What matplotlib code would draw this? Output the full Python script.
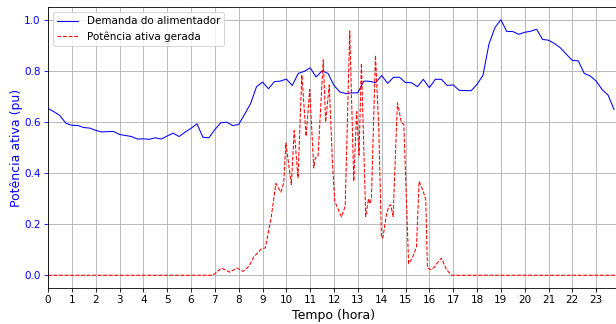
import matplotlib

matplotlib.use("Agg")
import matplotlib.pyplot as plt
import numpy as np


OUTPUT_PATH = "out.png"

# Demanda do alimentador, amostras de 15 min (0:00 ... 23:45)
demand_hours = np.arange(96) * 0.25
demand_pu = [
    0.653, 0.640, 0.625, 0.595, 0.587, 0.586, 0.578, 0.576,
    0.567, 0.561, 0.562, 0.563, 0.551, 0.547, 0.543, 0.533,
    0.534, 0.532, 0.538, 0.533, 0.545, 0.556, 0.543, 0.560,
    0.575, 0.593, 0.540, 0.538, 0.570, 0.597, 0.599, 0.586,
    0.590, 0.630, 0.672, 0.738, 0.756, 0.730, 0.758, 0.760,
    0.768, 0.743, 0.790, 0.798, 0.812, 0.776, 0.800, 0.790,
    0.743, 0.717, 0.711, 0.714, 0.714, 0.760, 0.759, 0.754,
    0.782, 0.751, 0.775, 0.775, 0.754, 0.754, 0.738, 0.767,
    0.734, 0.767, 0.767, 0.743, 0.745, 0.724, 0.723, 0.722,
    0.747, 0.782, 0.904, 0.969, 1.000, 0.954, 0.954, 0.943,
    0.951, 0.955, 0.963, 0.923, 0.920, 0.907, 0.890, 0.865,
    0.841, 0.839, 0.790, 0.780, 0.760, 0.727, 0.705, 0.649,
]

# Potência ativa gerada
pv_hours = [
    0.0, 6.92, 7.28, 7.45, 7.62, 7.93, 8.18, 8.43, 8.63, 8.95,
    9.12, 9.37, 9.56, 9.77, 9.89, 9.98, 10.21, 10.33, 10.49, 10.65,
    10.83, 10.98, 11.15, 11.22, 11.33, 11.55, 11.65, 11.80, 11.93, 12.03,
    12.31, 12.47, 12.66, 12.83, 12.95, 13.05, 13.15, 13.33, 13.45, 13.50,
    13.57, 13.74, 13.88, 13.99, 14.05, 14.20, 14.30, 14.38, 14.48, 14.66,
    14.83, 14.93, 15.13, 15.30, 15.46, 15.57, 15.74, 15.85, 15.92, 16.05,
    16.20, 16.35, 16.51, 16.72, 16.93, 23.83,
]
pv_pu = [
    0.0, 0.0, 0.028, 0.020, 0.012, 0.028, 0.015, 0.035, 0.071, 0.103,
    0.107, 0.230, 0.359, 0.325, 0.362, 0.518, 0.355, 0.566, 0.381, 0.785,
    0.544, 0.727, 0.420, 0.460, 0.466, 0.843, 0.600, 0.745, 0.453, 0.290,
    0.228, 0.270, 0.956, 0.368, 0.640, 0.470, 0.830, 0.230, 0.300, 0.280,
    0.300, 0.861, 0.571, 0.146, 0.146, 0.237, 0.270, 0.276, 0.230, 0.675,
    0.597, 0.590, 0.045, 0.070, 0.110, 0.368, 0.329, 0.296, 0.028, 0.022,
    0.030, 0.050, 0.067, 0.022, 0.0, 0.0,
]

hour_ticks = list(range(24))
y_ticks = [0.0, 0.2, 0.4, 0.6, 0.8, 1.0]


def main() -> None:
    fig = plt.figure(figsize=(616 / 75, 324 / 75), dpi=75)
    ax = fig.add_axes([48 / 616, 36 / 324, 572 / 616, 281 / 324])

    ax.plot(demand_hours, demand_pu, "b-", linewidth=1,
            label="Demanda do alimentador")
    ax.plot(pv_hours, pv_pu, "r--", linewidth=1,
            label="Potência ativa gerada")

    ax.set_xlim(0, 24)
    ax.set_ylim(-0.05, 1.05)
    ax.set_xticks(hour_ticks)
    ax.set_yticks(y_ticks)
    ax.tick_params(axis="y", colors="blue")

    ax.set_xlabel("Tempo (hora)", fontsize=12)
    ax.set_ylabel("Potência ativa (pu)", fontsize=12, color="blue",
                  labelpad=1.5)
    ax.grid(True)
    ax.legend(loc="upper left")

    fig.savefig(OUTPUT_PATH, dpi=75)
    plt.close(fig)


if __name__ == "__main__":
    main()
